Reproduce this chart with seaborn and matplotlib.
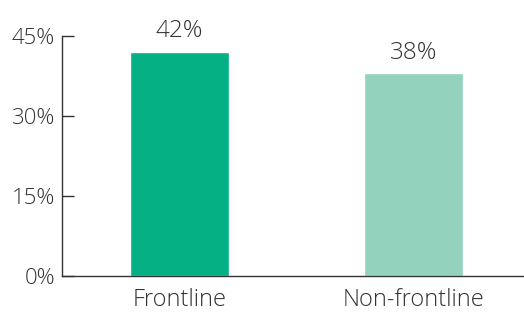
import matplotlib
matplotlib.use("Agg")
import matplotlib.pyplot as plt
import seaborn as sns
import pandas as pd

categories = ["Frontline", "Non-frontline"]
values = [42, 38]
colors = ["#05B084", "#93D2BC"]
yticks = [0, 15, 30, 45]

sns.set_style("white")
plt.rcParams["font.family"] = ["Open Sans", "DejaVu Sans"]
plt.rcParams["font.weight"] = "light"

df = pd.DataFrame({"cat": categories, "val": values})

fig = plt.figure(figsize=(5.24, 3.27), dpi=100)
ax = fig.add_axes([62/524, 1 - 276/327, (524-62)/524, 240/327])
sns.barplot(data=df, x="cat", y="val", hue="cat", palette=colors, width=0.423,
            legend=False, ax=ax, saturation=1)
ax.set_xlim(-0.502, 1.472)
ax.set_ylim(0, 45)
ax.set_yticks(yticks)
ax.set_yticklabels([f"{t}%" for t in yticks], fontsize=16, color="#333333")
ax.tick_params(axis="y", left=True, direction="in", length=8.5, width=1, color="#333333", pad=5)
ax.tick_params(axis="x", bottom=False, length=0, pad=9, labelsize=17, labelcolor="#333333")
ax.set_xlabel("")
ax.set_ylabel("")
for s in ["top", "right"]:
    ax.spines[s].set_visible(False)
for s in ["left", "bottom"]:
    ax.spines[s].set_color("#333333")
    ax.spines[s].set_linewidth(1)
for i, v in enumerate(values):
    ax.text(i, v + 1.6, f"{v}%", ha="center", va="bottom", fontsize=17.5, color="#333333")
fig.savefig("out.png", dpi=100)
